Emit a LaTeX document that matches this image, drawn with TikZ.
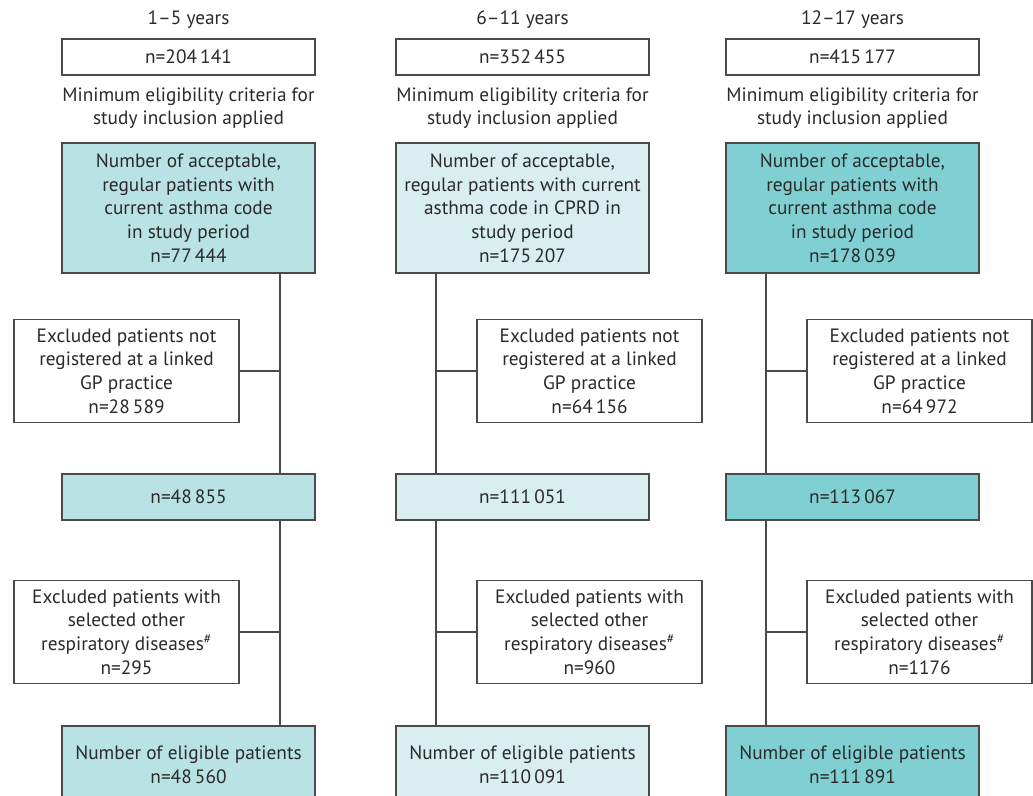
\documentclass[tikz,border=0pt]{standalone}
\usepackage{fontspec}
\setmainfont{PT Sans}
\usetikzlibrary{positioning}

\definecolor{tealA}{HTML}{B9E2E4}
\definecolor{tealB}{HTML}{D9EEEF}
\definecolor{tealC}{HTML}{80D0D3}
\definecolor{edgegray}{HTML}{4A4A4A}
\definecolor{textgray}{HTML}{2A2A2A}

\tikzset{
  txt/.style={align=center, text=textgray, inner sep=0pt},
  box/.style={txt, draw=edgegray, line width=1.2pt, minimum width=253pt},
  topbox/.style={box, fill=white, minimum height=36pt},
  exbox/.style={box, fill=white, minimum width=225pt, minimum height=103pt},
  link/.style={draw=edgegray, line width=1.2pt},
}

\begin{document}
\begin{tikzpicture}[x=1pt, y=-1pt, every node/.style={font=\fontsize{19.3}{23.7}\selectfont}]
  \clip (0,0) rectangle (1033,795);

  % Intestazioni delle fasce d'eta'
  \node[txt] (H1) at (188.5,20) {1--5 years};
  \node[txt] (H2) at (522.5,20) {6--11 years};
  \node[txt] (H3) at (852.5,20) {12--17 years};

  % Popolazione di partenza
  \node[topbox] (P1) at (188.5,57) {n=204\,141};
  \node[topbox] (P2) at (522.5,57) {n=352\,455};
  \node[topbox] (P3) at (852.5,57) {n=415\,177};

  \foreach \c/\cx in {1/188.5, 2/522.5, 3/852.5}
    \node[txt] (M\c) at (\cx,108) {Minimum eligibility criteria for\\study inclusion applied};

  % Pazienti con asma
  \node[box, fill=tealA, minimum height=130pt] (A1) at (188.5,208)
    {Number of acceptable,\\regular patients with\\current asthma code\\in study period\\n=77\,444};
  \node[box, fill=tealB, minimum height=130pt] (A2) at (522.5,208)
    {Number of acceptable,\\regular patients with current\\asthma code in CPRD in\\study period\\n=175\,207};
  \node[box, fill=tealC, minimum height=130pt] (A3) at (852.5,208)
    {Number of acceptable,\\regular patients with\\current asthma code\\in study period\\n=178\,039};

  % Esclusi: pratica non collegata
  \node[exbox] (X1) at (126.5,371) {Excluded patients not\\registered at a linked\\GP practice\\n=28\,589};
  \node[exbox] (X2) at (589.5,371) {Excluded patients not\\registered at a linked\\GP practice\\n=64\,156};
  \node[exbox] (X3) at (919.5,371) {Excluded patients not\\registered at a linked\\GP practice\\n=64\,972};

  % Conteggi intermedi
  \node[box, fill=tealA, minimum height=46pt] (B1) at (188.5,497) {n=48\,855};
  \node[box, fill=tealB, minimum height=46pt] (B2) at (522.5,497) {n=111\,051};
  \node[box, fill=tealC, minimum height=46pt] (B3) at (852.5,497) {n=113\,067};

  % Esclusi: altre malattie respiratorie
  \node[exbox] (Y1) at (126.5,632) {Excluded patients with\\selected other\\respiratory diseases\textsuperscript{\#}\\n=295};
  \node[exbox] (Y2) at (589.5,632) {Excluded patients with\\selected other\\respiratory diseases\textsuperscript{\#}\\n=960};
  \node[exbox] (Y3) at (919.5,632) {Excluded patients with\\selected other\\respiratory diseases\textsuperscript{\#}\\n=1176};

  % Pazienti eleggibili (tagliati dal bordo)
  \node[box, fill=tealA, minimum height=78pt] (F1) at (188.5,765) {Number of eligible patients\\n=48\,560};
  \node[box, fill=tealB, minimum height=78pt] (F2) at (522.5,765) {Number of eligible patients\\n=110\,091};
  \node[box, fill=tealC, minimum height=78pt] (F3) at (852.5,765) {Number of eligible patients\\n=111\,891};

  % Linee di flusso
  \coordinate (L1) at (280,0);
  \coordinate (L2) at (436,0);
  \coordinate (L3) at (766,0);
  \foreach \c in {1,2,3} {
    \draw[link] (A\c.south -| L\c) -- (B\c.north -| L\c);
    \draw[link] (B\c.south -| L\c) -- (F\c.north -| L\c);
    \draw[link] (X\c) -- (X\c -| L\c);
    \draw[link] (Y\c) -- (Y\c -| L\c);
  }

\end{tikzpicture}
\end{document}
